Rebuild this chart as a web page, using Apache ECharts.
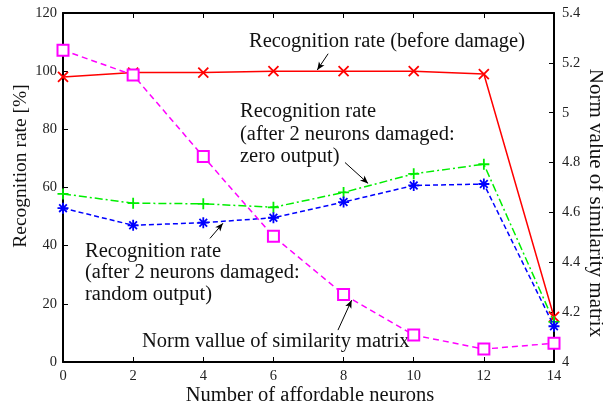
<!DOCTYPE html>
<html><head><meta charset="utf-8">
<script src="https://cdn.jsdelivr.net/npm/echarts@6/dist/echarts.min.js"></script>
<style>html,body{margin:0;padding:0;background:#fff}#c{width:603px;height:405px}</style>
</head><body><div id="c"></div>
<script>
var neurons = [0, 2, 4, 6, 8, 10, 12, 14];
var beforeDamage = [98.0, 99.5, 99.5, 100, 100, 100, 99.0, 15.5];
var zeroOutput   = [57.8, 54.6, 54.4, 53.2, 58.3, 64.7, 68.0, 13.8];
var randomOutput = [52.9, 47.0, 47.9, 49.6, 55.0, 60.7, 61.2, 12.3];
var normValue    = [5.251, 5.151, 4.824, 4.504, 4.271, 4.108, 4.052, 4.075];
var xTicks = [0, 2, 4, 6, 8, 10, 12, 14];
var leftTicks = [0, 20, 40, 60, 80, 100, 120];
var rightTicks = [4, 4.2, 4.4, 4.6, 4.8, 5, 5.2, 5.4];

function pairs(ys){ return neurons.map(function(x,i){ return [x, ys[i]]; }); }
var FONT = '"Liberation Serif","Times New Roman",serif';
var crossPath = 'path://M0,0L10,10M10,0L0,10';
var plusPath = 'path://M5,0L5,10M0,5L10,5';
var starPath = 'path://M5,0L5,10M0,5L10,5M1.5,1.5L8.5,8.5M8.5,1.5L1.5,8.5';

function arrow(from, to){
  return {
    silent: true, symbol: ['none','arrow'], symbolSize: [5, 8],
    label: {show:false},
    lineStyle: {color:'#000', type:'solid', width:1},
    data: [[{coord: from}, {coord: to}]]
  };
}

var axisCommon = {
  axisLine: {show:true, onZero:false, lineStyle:{color:'#000', width:2}},
  axisTick: {show:true, inside:true, length:5, lineStyle:{color:'#000', width:1}},
  splitLine: {show:false},
  axisLabel: {color:'#222', fontFamily: FONT, fontSize: 14.5}
};

var chart = echarts.init(document.getElementById('c'));
chart.setOption({
  animation: false,
  backgroundColor: '#fff',
  grid: {left: 63, right: 49, top: 13, bottom: 43},
  xAxis: [
    Object.assign({}, axisCommon, {type:'value', position:'bottom', min: xTicks[0], max: xTicks[xTicks.length-1], interval: 2,
      axisLabel: Object.assign({}, axisCommon.axisLabel, {margin: 7})}),
    Object.assign({}, axisCommon, {type:'value', position:'top', min: xTicks[0], max: xTicks[xTicks.length-1], interval: 2,
      axisLabel: {show:false}})
  ],
  yAxis: [
    Object.assign({}, axisCommon, {type:'value', position:'left', min: leftTicks[0], max: leftTicks[leftTicks.length-1], interval: 20,
      axisLabel: Object.assign({}, axisCommon.axisLabel, {margin: 6})}),
    Object.assign({}, axisCommon, {type:'value', position:'right', min: rightTicks[0], max: rightTicks[rightTicks.length-1], interval: 0.2,
      axisLabel: Object.assign({}, axisCommon.axisLabel, {margin: 8, formatter: function(v){ return String(Math.round(v*10)/10); }})})
  ],
  series: [
    {name:'before', type:'line', data: pairs(beforeDamage), yAxisIndex:0, z:3,
     lineStyle:{color:'#ff0000', width:1.5, type:'solid'},
     symbol: crossPath, symbolSize: 10,
     itemStyle:{color:'#ff0000', borderColor:'#ff0000', borderWidth:1.8},
     markLine: arrow([7.56, 106], [7.25, 100.4])},
    {name:'zero', type:'line', data: pairs(zeroOutput), yAxisIndex:0, z:3,
     lineStyle:{color:'#00ee00', width:1.5, type:[8,3,2,3]},
     symbol: plusPath, symbolSize: 11,
     itemStyle:{color:'#00ee00', borderColor:'#00ee00', borderWidth:1.8},
     markLine: arrow([8.04, 68.6], [8.70, 61.4])},
    {name:'random', type:'line', data: pairs(randomOutput), yAxisIndex:0, z:4,
     lineStyle:{color:'#0000ff', width:1.5, type:[5,3]},
     symbol: starPath, symbolSize: 11,
     itemStyle:{color:'#0000ff', borderColor:'#0000ff', borderWidth:1.8},
     markLine: arrow([4.19, 42.5], [4.56, 47.7])},
    {name:'norm', type:'line', data: pairs(normValue), yAxisIndex:1, z:5,
     lineStyle:{color:'#ff00ff', width:1.5, type:[6,4]},
     symbol: 'emptyRect', symbolSize: 11,
     itemStyle:{color:'#ff00ff', borderColor:'#ff00ff', borderWidth:1.8},
     markLine: arrow([7.84, 4.128], [8.23, 4.248])}
  ],
  graphic: [
    {type:'text', x:249, y:42, style:{text:'Recognition rate (before damage)', font:'20.5px '+FONT, fill:'#111', textVerticalAlign:'middle'}},
    {type:'text', x:240, y:112, style:{text:'Recognition rate', font:'20.5px '+FONT, fill:'#111', textVerticalAlign:'middle'}},
    {type:'text', x:240, y:134.5, style:{text:'(after 2 neurons damaged:', font:'20.5px '+FONT, fill:'#111', textVerticalAlign:'middle'}},
    {type:'text', x:240, y:157, style:{text:'zero output)', font:'20.5px '+FONT, fill:'#111', textVerticalAlign:'middle'}},
    {type:'text', x:85, y:251.5, style:{text:'Recognition rate', font:'20.5px '+FONT, fill:'#111', textVerticalAlign:'middle'}},
    {type:'text', x:85, y:273, style:{text:'(after 2 neurons damaged:', font:'20.5px '+FONT, fill:'#111', textVerticalAlign:'middle'}},
    {type:'text', x:85, y:295, style:{text:'random output)', font:'20.5px '+FONT, fill:'#111', textVerticalAlign:'middle'}},
    {type:'text', x:142, y:342, style:{text:'Norm vallue of similarity matrix', font:'20.5px '+FONT, fill:'#111', textVerticalAlign:'middle'}},
    {type:'text', x:310, y:396, style:{text:'Number of affordable neurons', font:'20.5px '+FONT, fill:'#111', textAlign:'center', textVerticalAlign:'middle'}},
    {type:'text', x:21, y:166, rotation: Math.PI/2, style:{text:'Recognition rate [%]', font:'19.5px '+FONT, fill:'#111', textAlign:'center', textVerticalAlign:'middle'}},
    {type:'text', x:596, y:203, rotation: -Math.PI/2, style:{text:'Norm value of similarity matrix', font:'21px '+FONT, fill:'#111', textAlign:'center', textVerticalAlign:'middle'}}
  ]
});
</script></body></html>
